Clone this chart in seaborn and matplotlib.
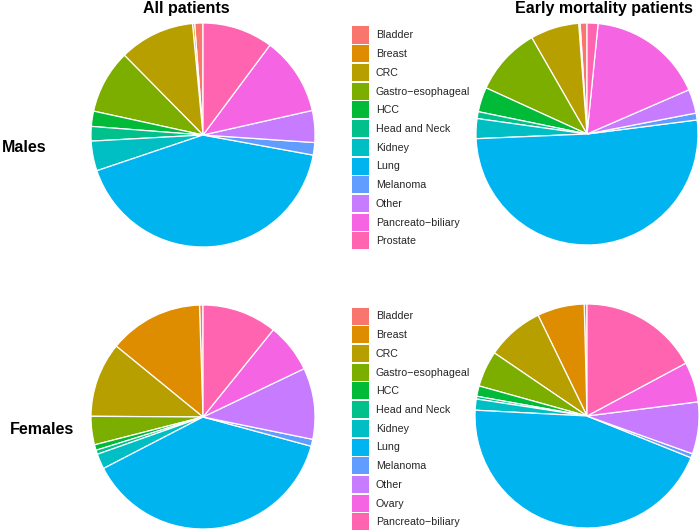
import matplotlib
matplotlib.use("Agg")
import matplotlib.pyplot as plt
from matplotlib.patches import Patch
import seaborn as sns

sns.set_theme(style="white")
plt.rcParams['font.family'] = ['Liberation Sans', 'DejaVu Sans']

# ---- data (percent shares) ----
male_categories = ["Bladder", "Breast", "CRC", "Gastro\u2212esophageal", "HCC",
                   "Head and Neck", "Kidney", "Lung", "Melanoma", "Other",
                   "Pancreato\u2212biliary", "Prostate"]
male_all = [1.2, 0.3, 10.9, 9.2, 2.2, 2.1, 4.3, 42.0, 1.8, 4.6, 11.3, 10.2]
male_early = [1.0, 0.2, 7.1, 9.9, 3.6, 1.0, 2.9, 51.4, 1.0, 3.5, 16.9, 1.6]

female_categories = ["Bladder", "Breast", "CRC", "Gastro\u2212esophageal", "HCC",
                     "Head and Neck", "Kidney", "Lung", "Melanoma", "Other",
                     "Ovary", "Pancreato\u2212biliary"]
female_all = [0.5, 13.6, 10.8, 4.1, 0.8, 0.6, 2.2, 38.2, 1.0, 10.3, 7.1, 10.8]
female_early = [0.4, 6.8, 8.3, 5.2, 1.5, 0.4, 1.6, 44.8, 0.6, 7.5, 5.8, 17.2]

col_titles = ["All patients", "Early mortality patients"]
row_titles = ["Males", "Females"]

palette = sns.color_palette(["#F8766D", "#DE8C00", "#B79F00", "#7CAE00", "#00BA38",
                             "#00C08B", "#00BFC4", "#00B4F0", "#619CFF", "#C77CFF",
                             "#F564E3", "#FF64B0"])

W, H = 700, 531
fig = plt.figure(figsize=(W / 100, H / 100), dpi=100)


def pie_axes(cx, cy, r):
    return fig.add_axes([(cx - r) / W, 1 - (cy + r) / H, 2 * r / W, 2 * r / H])


def draw_pie(cx, cy, r, values):
    ax = pie_axes(cx, cy, r)
    ax.pie(values, colors=palette, startangle=90, counterclock=True,
           wedgeprops=dict(edgecolor="white", linewidth=0.9))
    ax.set_xlim(-1.0, 1.0)
    ax.set_ylim(-1.0, 1.0)
    ax.set_aspect("equal")
    ax.axis("off")
    return ax


draw_pie(203, 135, 112, male_all)
draw_pie(587, 134, 111, male_early)
draw_pie(203, 417, 112, female_all)
draw_pie(587, 416, 112, female_early)

title_kw = dict(fontsize=11.5, fontweight="bold", color="black")
fig.text(186.5 / W, 1 - 8 / H, col_titles[0], ha="center", va="center", **title_kw)
fig.text(604 / W, 1 - 8 / H, col_titles[1], ha="center", va="center", **title_kw)
fig.text(2 / W, 1 - 147 / H, row_titles[0], ha="left", va="center", **title_kw)
fig.text(10 / W, 1 - 429 / H, row_titles[1], ha="left", va="center", **title_kw)


def add_legend(cats, top_px):
    handles = [Patch(facecolor=palette[i], edgecolor="none", label=c)
               for i, c in enumerate(cats)]
    fig.legend(handles=handles, loc="upper left",
               bbox_to_anchor=(351.7 / W, 1 - top_px / H),
               bbox_transform=fig.transFigure,
               frameon=False, fontsize=7.7, handlelength=1.58, handleheight=2.07,
               handletextpad=0.69, labelspacing=0.16, borderpad=0, borderaxespad=0)


add_legend(male_categories, 26.5)
add_legend(female_categories, 307.5)

fig.savefig("out.png", dpi=100, facecolor="white")
